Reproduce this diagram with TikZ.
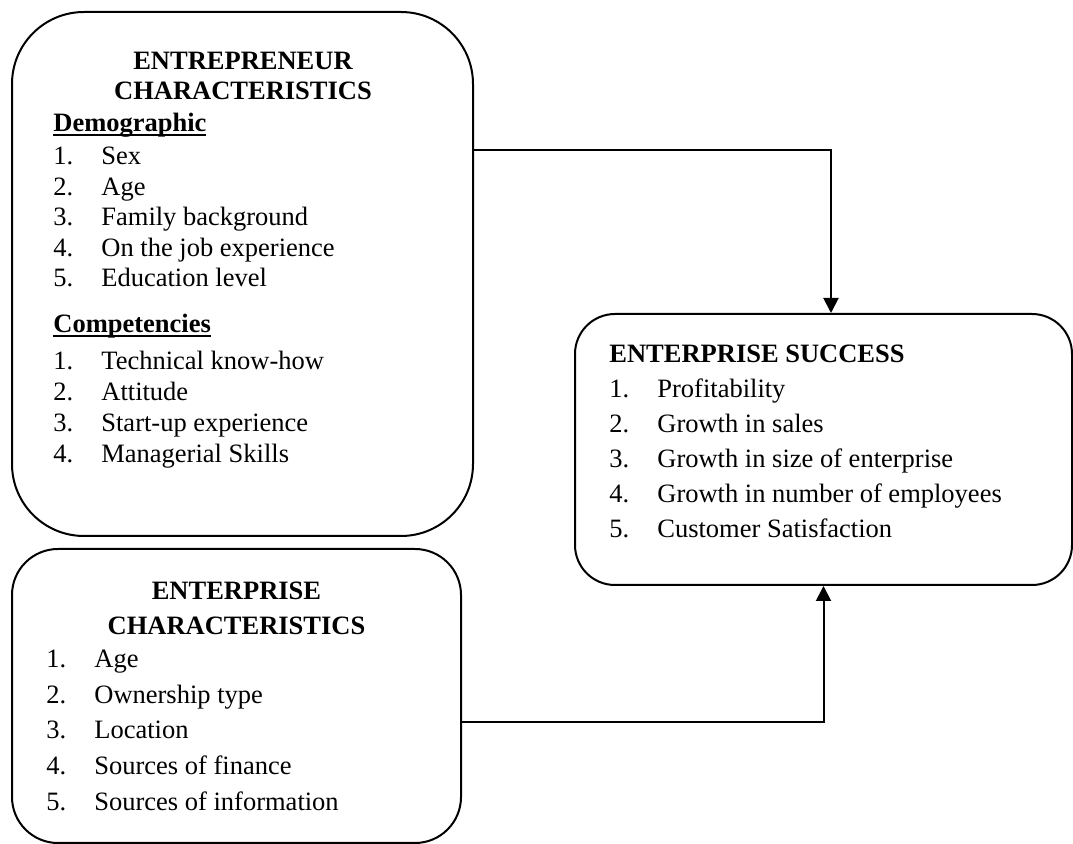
\documentclass[tikz,border=0pt]{standalone}
\usepackage{fontspec}
\setmainfont{Liberation Serif}
\usetikzlibrary{arrows.meta}

\newcommand{\bodysize}{\fontsize{13.25pt}{16pt}\selectfont}
\newcommand{\numitem}[2]{\makebox[24pt][l]{#1.}#2}
\newcommand{\ulhead}[1]{\setbox0\hbox{#1}\rlap{\rule[-2pt]{\wd0}{0.8pt}}\box0}

\tikzset{
	box/.style={draw,line width=1pt,inner sep=0pt},
	head/.style={font=\bodysize\bfseries,inner sep=0pt,anchor=base},
	sub/.style={font=\bodysize\bfseries,inner sep=0pt,anchor=base west},
	item/.style={font=\bodysize,inner sep=0pt,anchor=base west},
	link/.style={line width=1pt,-{Triangle[length=7.5pt,width=7.5pt]}}
}

\begin{document}
\begin{tikzpicture}[x=0.5pt,y=-0.5pt]
	\useasboundingbox (0,0) rectangle (1073,844);
	% the three boxes
	\node[box,rounded corners=36pt,minimum width=230.5pt,minimum height=262pt] (entre) at (242.5,274) {};
	\node[box,rounded corners=23pt,minimum width=224.5pt,minimum height=147pt] (firm) at (236.5,696) {};
	\node[box,rounded corners=20pt,minimum width=248.5pt,minimum height=135.5pt] (success) at (823.5,449.5) {};
	% entrepreneur characteristics
	\node[head] (entreA) at (243,70) {ENTREPRENEUR};
	\node[head] (entreB) at (243,100) {CHARACTERISTICS};
	\node[sub] (demo) at (53,132) {\ulhead{Demographic}};
	\foreach \n/\t/\y in {1/Sex/165,2/Age/196,3/Family background/226,4/On the job experience/257,5/Education level/287}
		\node[item] (demo\n) at (53,\y) {\numitem{\n}{\t}};
	\node[sub] (comp) at (53,333) {\ulhead{Competencies}};
	\foreach \n/\t/\y in {1/Technical know-how/370,2/Attitude/401,3/Start-up experience/432,4/Managerial Skills/463}
		\node[item] (comp\n) at (53,\y) {\numitem{\n}{\t}};
	% enterprise characteristics
	\node[head] (firmA) at (236.5,600) {ENTERPRISE};
	\node[head] (firmB) at (236.5,635) {CHARACTERISTICS};
	\foreach \n/\t/\y in {1/Age/668,2/Ownership type/704,3/Location/739,4/Sources of finance/775,5/Sources of information/811}
		\node[item] (firm\n) at (46,\y) {\numitem{\n}{\t}};
	% enterprise success
	\node[sub] (successA) at (609,363) {ENTERPRISE SUCCESS};
	\foreach \n/\t/\y in {1/Profitability/398,2/Growth in sales/433,3/Growth in size of enterprise/468,4/Growth in number of employees/503,5/Customer Satisfaction/538}
		\node[item] (success\n) at (609,\y) {\numitem{\n}{\t}};
	% links
	\draw[link] (entre.east |- 0,150) -| ([xshift=3.75pt]success.north);
	\draw[link] (firm.east |- 0,722) -| (success.south);
\end{tikzpicture}
\end{document}
